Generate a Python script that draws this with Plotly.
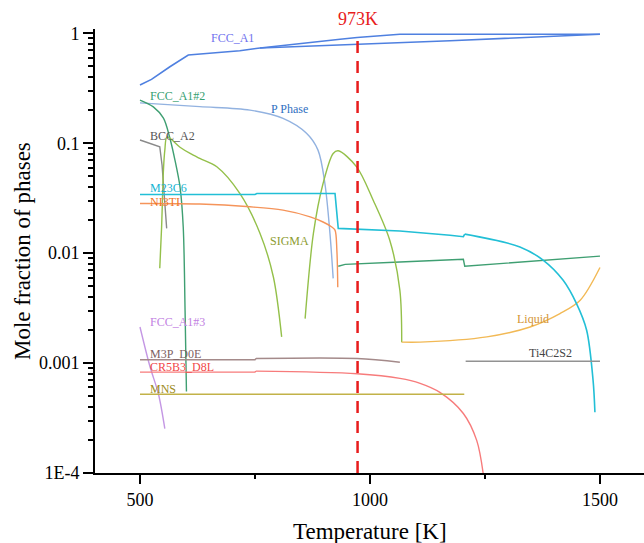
import plotly.graph_objects as go
import math

# ---------------- data (Temperature [K], mole fraction) ----------------
fcc_a1_T = [500, 525, 565, 605, 717, 761, 935, 972, 1065, 1267, 1500]
fcc_a1_y = [0.338, 0.381, 0.496, 0.634, 0.694, 0.735, 0.882, 0.916, 0.979, 0.979, 0.979]
fcc_a1_b_T = [761, 972, 1109, 1174, 1500]
fcc_a1_b_y = [0.735, 0.794, 0.828, 0.856, 0.979]

p_phase_T = [500, 630, 739, 811, 862, 887, 902, 913, 920]
p_phase_y = [0.233, 0.215, 0.200, 0.168, 0.123, 0.0865, 0.043, 0.0151, 0.0059]

fcc_a1_2_T = [500, 529, 551, 565, 576, 587, 594, 598, 601]
fcc_a1_2_y = [0.247, 0.214, 0.169, 0.111, 0.0703, 0.040, 0.0173, 0.0030, 0.00055]
fcc_a1_2_hi_T = [931, 946, 1065, 1174, 1203, 1206, 1500]
fcc_a1_2_hi_y = [0.0076, 0.0079, 0.0083, 0.0086, 0.0088, 0.0076, 0.0094]

bcc_a2_T = [500, 543, 548, 552, 558]
bcc_a2_y = [0.107, 0.0927, 0.063, 0.0374, 0.0168]

sigma1_T = [543, 547, 551, 554, 559, 587, 609, 630, 667, 717, 761, 790, 808]
sigma1_y = [0.0073, 0.0173, 0.057, 0.0865, 0.114, 0.092, 0.0807, 0.0727, 0.061, 0.0349, 0.0151, 0.00607, 0.00173]
sigma2_T = [859, 877, 898, 920, 931, 971, 1007, 1043, 1065, 1069]
sigma2_y = [0.00254, 0.0151, 0.043, 0.0807, 0.0853, 0.061, 0.0303, 0.0131, 0.00459, 0.00155]

liquid_T = [1069, 1109, 1254, 1348, 1413, 1457, 1500]
liquid_y = [0.00155, 0.00155, 0.00173, 0.00213, 0.00282, 0.00373, 0.0074]

m23c6_T = [500, 750, 754, 924, 931, 1065, 1174, 1203, 1206, 1326, 1377, 1420, 1449, 1471, 1485, 1489]
m23c6_y = [0.0342, 0.0342, 0.0349, 0.0349, 0.0168, 0.0159, 0.01455, 0.0141, 0.0149, 0.0114, 0.0086,
           0.00566, 0.00347, 0.00199, 0.000696, 0.000357]

ni3ti_T = [500, 630, 739, 811, 870, 898, 917, 924, 928, 930]
ni3ti_y = [0.0283, 0.0280, 0.0264, 0.0246, 0.0214, 0.0192, 0.0173, 0.0162, 0.0106, 0.0049]

fcc_a1_3_T = [500, 522, 540, 554]
fcc_a1_3_y = [0.00213, 0.00092, 0.000526, 0.000253]

m3p_T = [500, 750, 752, 972, 1065]
m3p_y = [0.00107, 0.00107, 0.00110, 0.00110, 0.00102]

cr5b3_T = [500, 750, 752, 972, 1065, 1109, 1152, 1203, 1232, 1246]
cr5b3_y = [0.000828, 0.000828, 0.000845, 0.00080, 0.000726, 0.000654, 0.000541, 0.000348, 0.000198, 0.0001]

mns_T = [500, 1205]
mns_y = [0.00052, 0.00052]

ti4c2s2_T = [1208, 1500]
ti4c2s2_y = [0.00104, 0.00104]

ref_T = 973
ref_y = [0.0001, 0.965]

# ---------------- styles ----------------
# (T, y, colour, width, shape, split index where the smooth part starts)
series = [
    (fcc_a1_T, fcc_a1_y, "#4f80e0", 1.6, "linear", None),
    (fcc_a1_b_T, fcc_a1_b_y, "#4f80e0", 1.6, "linear", None),
    (p_phase_T, p_phase_y, "#92b2e0", 1.4, "spline", None),
    (fcc_a1_2_T, fcc_a1_2_y, "#3f9f72", 1.4, "spline", None),
    (fcc_a1_2_hi_T, fcc_a1_2_hi_y, "#3f9f72", 1.4, "linear", None),
    (bcc_a2_T, bcc_a2_y, "#8a8a8a", 1.4, "linear", None),
    (sigma1_T, sigma1_y, "#94c04a", 1.4, "spline", None),
    (sigma2_T, sigma2_y, "#94c04a", 1.4, "spline", None),
    (liquid_T, liquid_y, "#f2b955", 1.4, "spline", None),
    (m23c6_T, m23c6_y, "#22bfd6", 1.6, "linear", 8),
    (ni3ti_T, ni3ti_y, "#f5945a", 1.4, "spline", None),
    (fcc_a1_3_T, fcc_a1_3_y, "#c497e4", 1.4, "spline", None),
    (m3p_T, m3p_y, "#a48a8a", 1.5, "linear", 2),
    (cr5b3_T, cr5b3_y, "#f77b7b", 1.4, "linear", 2),
    (mns_T, mns_y, "#c2b248", 1.6, "linear", None),
    (ti4c2s2_T, ti4c2s2_y, "#929292", 1.6, "linear", None),
]

fig = go.Figure()
for T, y, c, w, shape, split in series:
    if split is None:
        fig.add_trace(go.Scatter(x=T, y=y, mode="lines",
                                 line=dict(color=c, width=w, shape=shape, smoothing=0.9),
                                 hoverinfo="skip", showlegend=False))
    else:
        fig.add_trace(go.Scatter(x=T[:split + 1], y=y[:split + 1], mode="lines",
                                 line=dict(color=c, width=w, shape="linear"),
                                 hoverinfo="skip", showlegend=False))
        fig.add_trace(go.Scatter(x=T[split:], y=y[split:], mode="lines",
                                 line=dict(color=c, width=w, shape="spline", smoothing=0.9),
                                 hoverinfo="skip", showlegend=False))

fig.add_trace(go.Scatter(x=[ref_T, ref_T], y=ref_y, mode="lines",
                         line=dict(color="#e81c1c", width=2.5, dash="12px,8px"),
                         showlegend=False, hoverinfo="skip"))

SERIF = "Liberation Serif, Times New Roman, serif"

labels = [
    ("FCC_A1", 702, 0.897, "center", "#6f72ee"),
    ("FCC_A1#2", 517.4, 0.268, "left", "#34a070"),
    ("P Phase", 826, 0.205, "center", "#2f6fbf"),
    ("BCC_A2", 517.4, 0.116, "left", "#555555"),
    ("M23C6", 517.4, 0.0394, "left", "#12b4d2"),
    ("NI3TI", 517.4, 0.0294, "left", "#f07428"),
    ("SIGMA", 826, 0.0128, "center", "#8d9c32"),
    ("Liquid", 1354, 0.0025, "center", "#d39434"),
    ("FCC_A1#3", 517.4, 0.00235, "left", "#c27fe2"),
    ("M3P_D0E", 517.4, 0.0012, "left", "#7d5f5f"),
    ("CR5B3_D8L", 517.4, 0.000914, "left", "#f24848"),
    ("MNS", 517.4, 0.000575, "left", "#9d8c22"),
    ("Ti4C2S2", 1393, 0.001225, "center", "#444444"),
]

annotations = []
for text, x, y, anchor, color in labels:
    annotations.append(dict(x=x, y=math.log10(y), xref="x", yref="y", text=text,
                            showarrow=False, xanchor=anchor, yanchor="middle",
                            font=dict(family=SERIF, size=12, color=color)))

annotations.append(dict(x=ref_T, y=1.0225, xref="x", yref="paper", text="973K",
                        showarrow=False, xanchor="center", yanchor="middle",
                        font=dict(family=SERIF, size=18, color="#e81c1c")))
annotations.append(dict(x=-0.133, y=0.5, xref="paper", yref="paper",
                        text="Mole fraction of phases", textangle=-90, showarrow=False,
                        xanchor="center", yanchor="middle",
                        font=dict(family=SERIF, size=23, color="black")))
annotations.append(dict(x=0.5, y=-0.131, xref="paper", yref="paper",
                        text="Temperature [K]", showarrow=False,
                        xanchor="center", yanchor="middle",
                        font=dict(family=SERIF, size=23, color="black")))

fig.update_layout(
    width=644, height=543,
    margin=dict(l=95, r=0, t=29, b=70, pad=0),
    paper_bgcolor="white", plot_bgcolor="white",
    font=dict(family=SERIF, size=18, color="black"),
    showlegend=False,
    annotations=annotations,
    xaxis=dict(range=[402.2, 1595.7], tickvals=[500, 1000, 1500],
               ticktext=["500", "1000", "1500"],
               ticks="outside", ticklen=9, tickwidth=2, tickcolor="black",
               showline=True, linewidth=2, linecolor="black", showgrid=False,
               zeroline=False, mirror=False,
               minor=dict(ticks="outside", ticklen=4, tickwidth=2, tickcolor="black",
                          tickvals=[750, 1250], showgrid=False),
               tickfont=dict(family=SERIF, size=18)),
    yaxis=dict(type="log", range=[-4, 0.039],
               tickvals=[1e-4, 1e-3, 1e-2, 1e-1, 1],
               ticktext=["1E-4", "0.001", "0.01", "0.1", "1"],
               ticks="outside", ticklen=10, tickwidth=2, tickcolor="black",
               showline=True, linewidth=2, linecolor="black", showgrid=False,
               zeroline=False, mirror=False,
               minor=dict(ticks="outside", ticklen=5, tickwidth=1.5, tickcolor="black",
                          dtick="D1", showgrid=False),
               tickfont=dict(family=SERIF, size=18)),
)

fig.write_html("out.html")
